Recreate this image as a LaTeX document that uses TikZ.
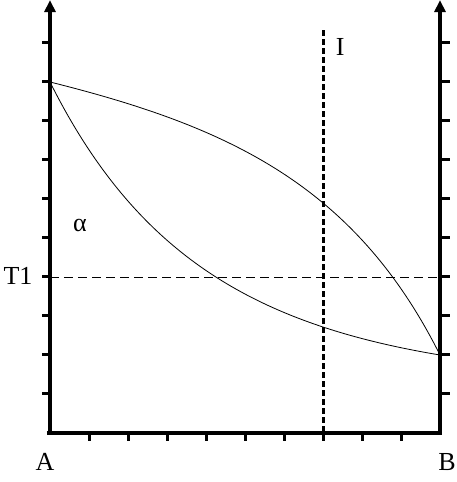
\documentclass[tikz,border=0pt]{standalone}
\usepackage{fontspec}
\setmainfont{Liberation Serif}
\usetikzlibrary{arrows.meta}
\usetikzlibrary{positioning}

\begin{document}
\begin{tikzpicture}[x=39pt, y=39pt, every node/.style={font=\fontsize{26}{30}\selectfont, inner sep=0pt},
    axis/.style={line width=3.5pt, -{Triangle[width=11pt,length=12pt]}},
    tick/.style={line width=3pt},
    curve/.style={line width=0.8pt}]

        \useasboundingbox (-50pt,-49pt) rectangle (407pt,433pt);

        \def\n{10} % Number of ticks on each axis

        \coordinate (A0) at (-0.08, 0);
        \coordinate (A) at (0, 0);
        \coordinate (B) at (\n, 0);
        \coordinate (topA) at (0, 11.1);
        \coordinate (topB) at (\n, 11.1);

        \draw[axis] (A) -- (topA);
        \draw[axis] (A0) -- (B) -- (topB);

        \foreach \k in {1,...,\n} {
          \draw[tick] (0, \k) -- ++(-8pt, 0);
          \draw[tick] (\n, \k) -- ++(10pt, 0);
        }
        \foreach \k in {1,...,9} {
          \draw[tick] (\k, 0) -- ++(0, -8pt);
        }

        \coordinate (pA) at (0, 9);
        \coordinate (pB) at (\n, 2);

        \draw[curve] (pA) .. controls (4.5, 7.875) and (7.8, 6.4) .. (pB);
        \draw[curve] (pA) .. controls (2.2, 4.6) and (5.2, 2.8) .. (pB);

        % isotherm
        \coordinate (t1l) at (0, 4);
        \coordinate (t1r) at (\n, 4);
        \draw[line width=0.8pt, dash pattern=on 9pt off 5pt] (t1l) -- (t1r);

        % section line
        \coordinate (Itop) at (7, 10.33);
        \coordinate (Ibot) at (7, 0);
        \draw[line width=3pt, dash pattern=on 6pt off 3pt] (Itop) -- (Ibot);

        \node (labT1) at (-0.82, 4.03) {T1};
        \node (labI) at (7.44, 9.9) {I};
        \node (labalpha) at (0.77, 5.31) {α};
        \node (labA) at (-0.13, -0.74) {A};
        \node (labB) at (10.18, -0.74) {B};

\end{tikzpicture}
\end{document}
